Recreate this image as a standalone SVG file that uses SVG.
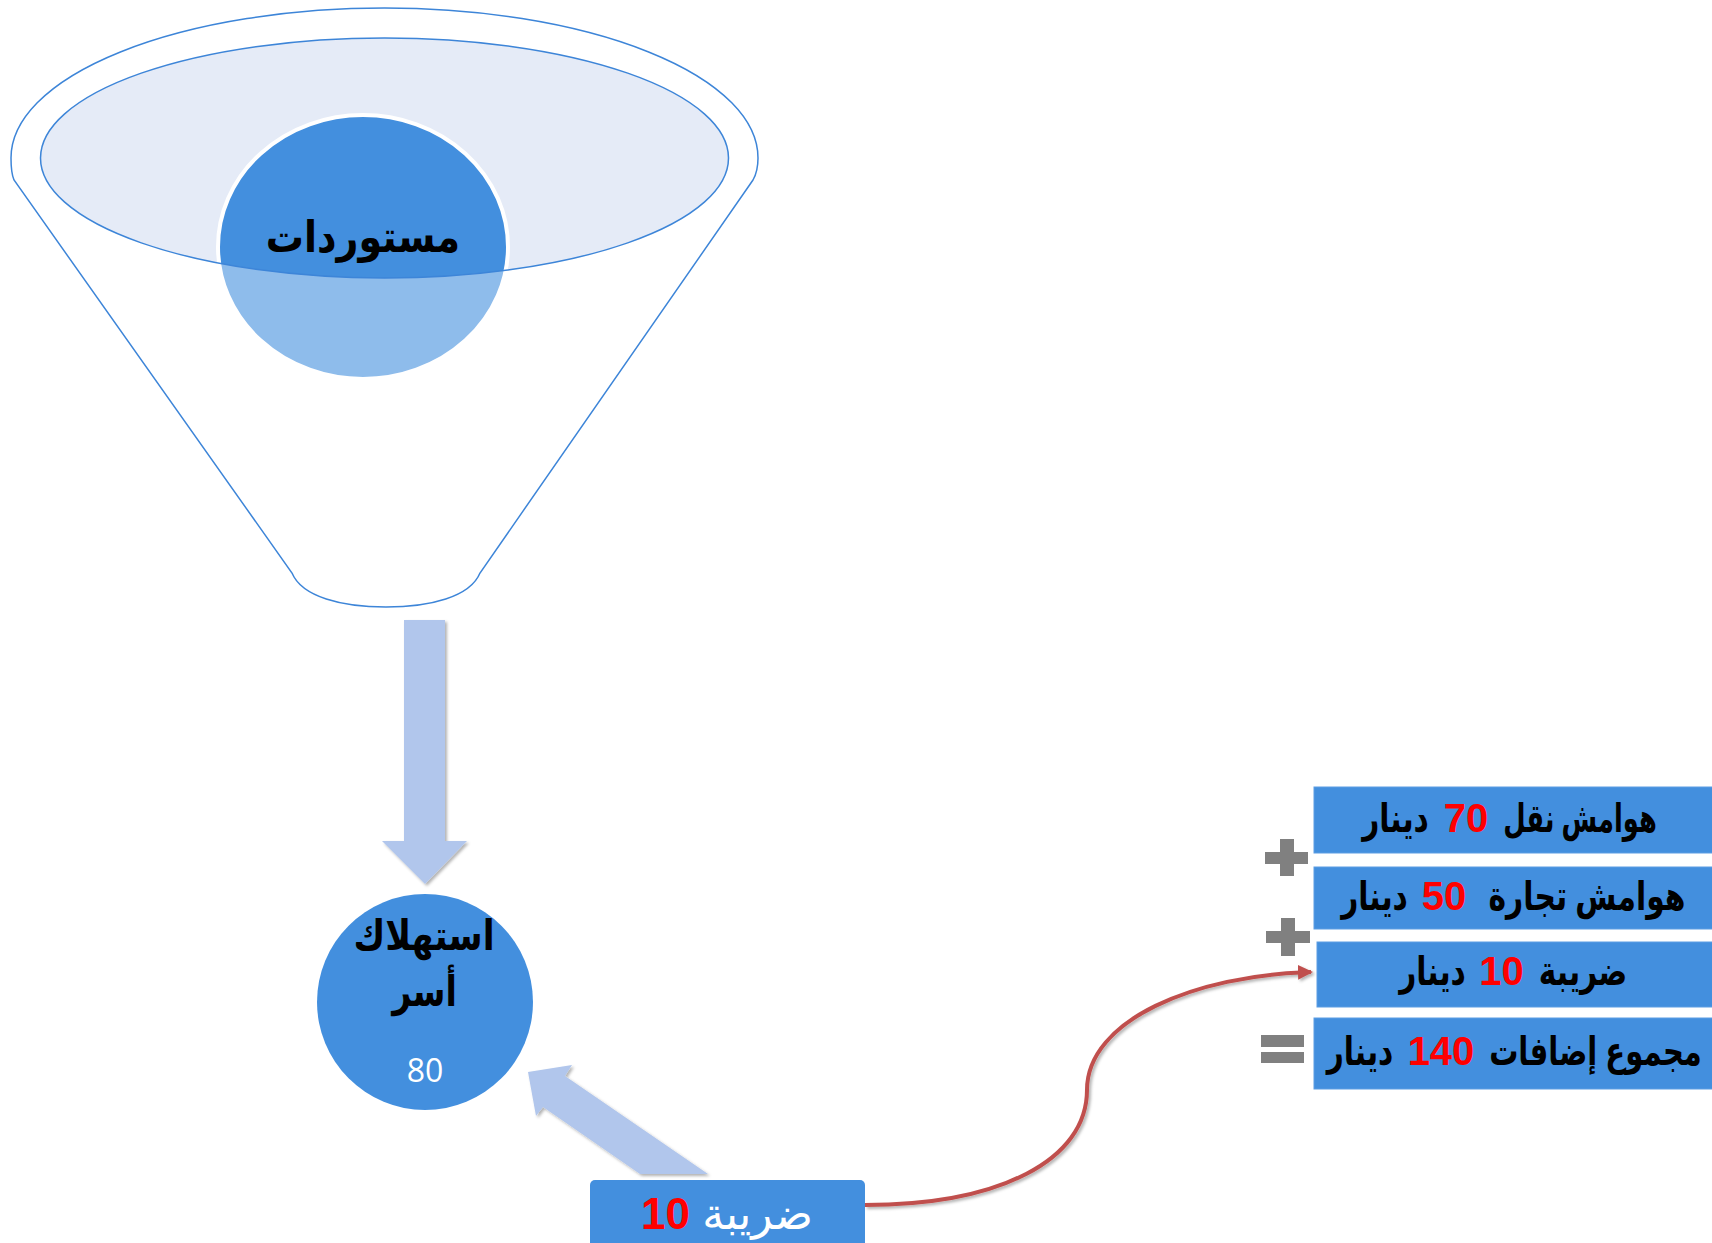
<svg xmlns="http://www.w3.org/2000/svg" width="1712" height="1243" viewBox="0 0 1712 1243">
<style>
.ar{font-family:"Liberation Sans","DejaVu Sans",sans-serif;font-weight:bold;fill:#000}
.num{font-family:"Liberation Sans",Arial,sans-serif;font-weight:bold;fill:#FF0000}
.box{fill:#438FDE;stroke:#5C9DE3;stroke-width:1}
.op{fill:#808080}
.arrowfill{fill:#B1C6EC}
</style>
<defs>
<filter id="sh" x="-20%" y="-20%" width="140%" height="140%">
<feDropShadow dx="2" dy="2" stdDeviation="1.5" flood-color="#000" flood-opacity="0.3"/>
</filter>
<clipPath id="circClip"><ellipse cx="363" cy="247" rx="145" ry="132"/></clipPath>
<marker id="redHead" markerWidth="16" markerHeight="16" refX="13" refY="7.5" orient="auto" markerUnits="userSpaceOnUse">
<path d="M0,0 L15,7.5 L0,15 Z" fill="#C0504D"/>
</marker>
</defs>

<g id="funnel">
<path d="M14,180 C11,173 11,166 11,158 A373.5 150 0 0 1 758,158 C758,166 757,173 753,180 L480,573 C470,597 430,607 386,607 C342,607 302,597 292,573 Z" fill="none" stroke="#3D85D8" stroke-width="1.5"/>
<ellipse cx="384.5" cy="158" rx="344" ry="120" fill="#E5EBF7"/>
</g>

<g id="imports">
<ellipse cx="363" cy="247" rx="145" ry="132" fill="#438FDE" stroke="#FFFFFF" stroke-width="4"/>
<g clip-path="url(#circClip)">
<path d="M0,0 H800 V700 H0 Z M40.5,158 A344 120 0 1 0 728.5,158 A344 120 0 1 0 40.5,158 Z" fill="#FFFFFF" fill-opacity="0.4" fill-rule="evenodd"/>
</g>
<ellipse cx="384.5" cy="158" rx="344" ry="120" fill="none" stroke="#3D85D8" stroke-width="1.5"/>
<text class="ar" transform="translate(363,252) scale(0.865,1)" x="0" y="0" font-size="44" text-anchor="middle" direction="rtl">مستوردات</text>
</g>

<g id="connectors">
<polygon class="arrowfill" filter="url(#sh)" points="404,620 445,620 445,841 467,841 425,884 382,841 404,841"/>
<polygon class="arrowfill" filter="url(#sh)" points="528,1072 572,1065 565,1076 708,1174 640,1174 543,1107 536,1116"/>
<path d="M865,1205 C1000,1205 1087,1160 1087,1090 C1087,1020 1195,975 1311,972" fill="none" stroke="#C0504D" stroke-width="4" marker-end="url(#redHead)" filter="url(#sh)"/>
</g>

<g id="consumption">
<circle cx="425" cy="1002" r="108" fill="#438FDE"/>
<text class="ar" transform="translate(424,950) scale(0.826,1)" x="0" y="0" font-size="42" text-anchor="middle" direction="rtl">استهلاك</text>
<text class="ar" transform="translate(424.5,1006) scale(0.79,1)" x="0" y="0" font-size="42" text-anchor="middle" direction="rtl">أسر</text>
<text x="425" y="1082" font-family="'Open Sans','Liberation Sans',sans-serif" font-size="32" fill="#FFFFFF" text-anchor="middle">80</text>
</g>

<g id="tax-box">
<rect x="590" y="1180" width="275" height="70" rx="5" fill="#438FDE"/>
<text x="727" y="1229" font-family="'Liberation Sans','DejaVu Sans',sans-serif" font-size="44" text-anchor="middle" direction="rtl"><tspan fill="#FFFFFF">ضريبة </tspan><tspan class="num">10</tspan></text>
</g>

<g id="transport">
<rect class="box" x="1314" y="787" width="400" height="66"/>
<text class="ar" transform="translate(1580,832) scale(0.645,1)" x="0" y="0" font-size="40" text-anchor="middle" direction="rtl">هوامش نقل</text>
<text class="num" x="1466" y="832" font-size="40" text-anchor="middle">70</text>
<text class="ar" transform="translate(1395.5,832) scale(0.742,1)" x="0" y="0" font-size="40" text-anchor="middle" direction="rtl">دينار</text>
</g>
<g id="trade">
<rect class="box" x="1314" y="867" width="400" height="62"/>
<text class="ar" transform="translate(1587,910) scale(0.745,1)" x="0" y="0" font-size="40" text-anchor="middle" direction="rtl">هوامش تجارة</text>
<text class="num" x="1444" y="910" font-size="40" text-anchor="middle">50</text>
<text class="ar" transform="translate(1374.5,910) scale(0.742,1)" x="0" y="0" font-size="40" text-anchor="middle" direction="rtl">دينار</text>
</g>
<g id="tax">
<rect class="box" x="1317" y="942" width="397" height="65"/>
<text class="ar" transform="translate(1583,985) scale(0.742,1)" x="0" y="0" font-size="40" text-anchor="middle" direction="rtl">ضريبة</text>
<text class="num" x="1501.5" y="985" font-size="40" text-anchor="middle">10</text>
<text class="ar" transform="translate(1432.5,985) scale(0.742,1)" x="0" y="0" font-size="40" text-anchor="middle" direction="rtl">دينار</text>
</g>
<g id="total">
<rect class="box" x="1314" y="1018" width="400" height="71"/>
<text class="ar" transform="translate(1595.5,1065) scale(0.727,1)" x="0" y="0" font-size="40" text-anchor="middle" direction="rtl">مجموع إضافات</text>
<text class="num" x="1441" y="1065" font-size="40" text-anchor="middle">140</text>
<text class="ar" transform="translate(1360,1065) scale(0.742,1)" x="0" y="0" font-size="40" text-anchor="middle" direction="rtl">دينار</text>
</g>

<g id="operators">
<rect class="op" x="1265" y="852" width="43" height="12"/>
<rect class="op" x="1280" y="839" width="14" height="37"/>
<rect class="op" x="1266" y="931" width="44" height="12"/>
<rect class="op" x="1281" y="918" width="14" height="38"/>
<rect class="op" x="1261" y="1035" width="43" height="12"/>
<rect class="op" x="1261" y="1052" width="43" height="11"/>
</g>
</svg>
